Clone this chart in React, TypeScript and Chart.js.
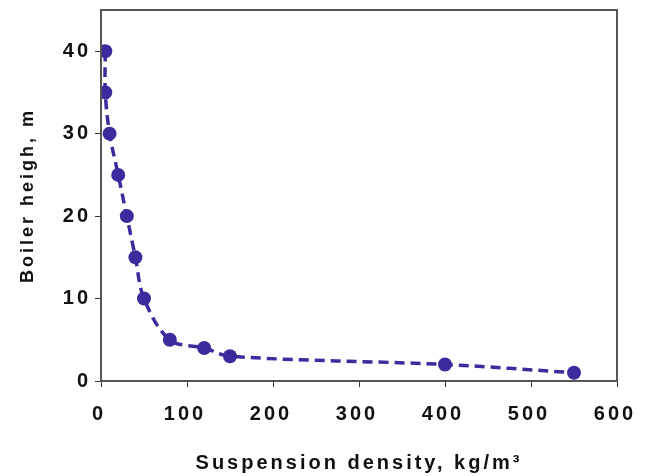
import React, { useEffect, useRef } from "react";
import { Chart, registerables } from "chart.js";

Chart.register(...registerables);

const densities = [5, 5, 10, 20, 30, 40, 50, 80, 120, 150, 400, 550];
const heights = [40, 35, 30, 25, 20, 15, 10, 5, 4, 3, 2, 1];
const xTickValues = [0, 100, 200, 300, 400, 500, 600];
const yTickValues = [0, 10, 20, 30, 40];

const COLOR = "#3a2c9c";
const FONT = "'Liberation Sans', Arial, sans-serif";
const SPACING = "3px";

const boxPlugin = {
  id: "boxPlugin",
  beforeInit(chart: any) {
    chart.ctx.letterSpacing = SPACING;
  },
  beforeDraw(chart: any) {
    chart.ctx.letterSpacing = SPACING;
  },
  afterDatasetsDraw(chart: any) {
    const { ctx, chartArea } = chart;
    ctx.save();
    ctx.strokeStyle = "#555555";
    ctx.lineWidth = 2;
    ctx.strokeRect(chartArea.left, chartArea.top, chartArea.right - chartArea.left, chartArea.bottom - chartArea.top);
    ctx.restore();
  },
};

export default function App() {
  const ref = useRef<HTMLCanvasElement | null>(null);
  useEffect(() => {
    if (!ref.current) return;
    const chart = new Chart(ref.current, {
      type: "scatter",
      data: {
        datasets: [
          {
            data: densities.map((x, i) => ({ x, y: heights[i] })),
            showLine: true,
            borderColor: COLOR,
            backgroundColor: COLOR,
            borderWidth: 3.5,
            borderDash: [10, 6],
            tension: 0.35,
            pointRadius: 7,
            pointBorderWidth: 0,
            pointBackgroundColor: COLOR,
          },
        ],
      },
      options: {
        animation: false,
        responsive: false,
        layout: { padding: { left: 0, top: 10, right: 33, bottom: 0 } },
        plugins: { legend: { display: false }, tooltip: { enabled: false } },
        scales: {
          x: {
            type: "linear",
            min: 0,
            max: 600,
            afterBuildTicks: (s: any) => {
              s.ticks = xTickValues.map((v) => ({ value: v }));
            },
            afterFit: (s: any) => {
              s.height = 95;
              s.paddingLeft = 0;
              s.paddingRight = 0;
            },
            grid: { drawOnChartArea: false, drawTicks: true, tickLength: 6, tickColor: "#333", color: "#333" },
            border: { display: false },
            ticks: { color: "#111", padding: 15, labelOffset: -2, font: { family: FONT, size: 20, weight: "bold" }, maxRotation: 0 },
            title: {
              display: true,
              text: "Suspension density, kg/m³",
              color: "#111",
              font: { family: FONT, size: 20, weight: "bold" },
              padding: { top: 10, bottom: 1 },
            },
          },
          y: {
            type: "linear",
            min: 0,
            max: 45,
            afterBuildTicks: (s: any) => {
              s.ticks = yTickValues.map((v) => ({ value: v }));
            },
            afterFit: (s: any) => {
              s.width = 101;
              s.paddingTop = 0;
              s.paddingBottom = 0;
            },
            grid: { drawOnChartArea: false, drawTicks: true, tickLength: 6, tickColor: "#333", color: "#333" },
            border: { display: false },
            ticks: { color: "#111", padding: 4, font: { family: FONT, size: 20, weight: "bold" } },
            title: {
              display: true,
              text: "Boiler heigh, m",
              color: "#111",
              font: { family: FONT, size: 18, weight: "bold" },
              padding: { top: 17, bottom: 8 },
            },
          },
        },
      },
      plugins: [boxPlugin],
    } as any);
    return () => chart.destroy();
  }, []);
  return (
    <div style={{ position: "absolute", left: 0, top: 0, width: 650, height: 476, background: "#fff" }}>
      <canvas ref={ref} width={650} height={476} style={{ width: 650, height: 476 }} />
    </div>
  );
}
